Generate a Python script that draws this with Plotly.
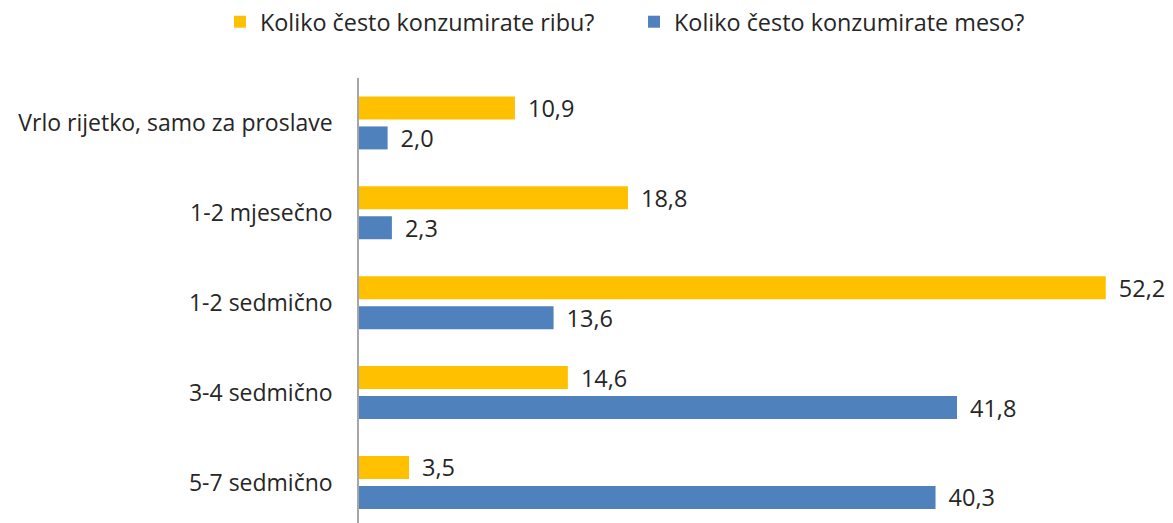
import plotly.graph_objects as go

categories = ["Vrlo rijetko, samo za proslave", "1-2 mjesečno", "1-2 sedmično", "3-4 sedmično", "5-7 sedmično"]
riba = [10.9, 18.8, 52.2, 14.6, 3.5]
meso = [2.0, 2.3, 13.6, 41.8, 40.3]
series_names = ["Koliko često konzumirate ribu?", "Koliko često konzumirate meso?"]

FONT = "Open Sans"
TXT = "#262626"
FS_TICK = 23
FS_LABEL = 23.5
FS_LEG = 23.4

fig = go.Figure()
fig.add_trace(go.Bar(
    y=categories, x=riba, orientation="h", name=series_names[0],
    marker=dict(color="#FFC000", line=dict(width=0)),
    texttemplate="\u00a0\u2009%{x:.1f}", textposition="outside", constraintext="none",
    textfont=dict(family=FONT, size=FS_LABEL, color=TXT), cliponaxis=False,
    legend="legend",
))
fig.add_trace(go.Bar(
    y=categories, x=meso, orientation="h", name=series_names[1],
    marker=dict(color="#4F81BD", line=dict(width=0)),
    texttemplate="\u00a0\u2009%{x:.1f}", textposition="outside", constraintext="none",
    textfont=dict(family=FONT, size=FS_LABEL, color=TXT), cliponaxis=False,
    legend="legend2",
))

legend_common = dict(orientation="h", xref="container", yref="container",
                     y=1 - 14 / 523, xanchor="left", yanchor="middle",
                     font=dict(family=FONT, size=FS_LEG, color=TXT),
                     itemwidth=30, bgcolor="rgba(0,0,0,0)")

fig.update_layout(
    width=1173, height=523,
    margin=dict(l=351, r=18, t=70, b=0, autoexpand=False),
    paper_bgcolor="white", plot_bgcolor="white",
    separators=",.",
    barmode="group", bargap=0.333, bargroupgap=0.233,
    font=dict(family=FONT, size=FS_TICK, color=TXT),
    showlegend=True,
    legend=dict(x=0.1807, **legend_common),
    legend2=dict(x=0.5337, **legend_common),
)
fig.update_xaxes(range=[0, 56.2], showgrid=False, showticklabels=False, zeroline=False,
                 showline=False, ticks="", automargin=False)
fig.update_yaxes(range=[4.54, -0.5], showgrid=False, showline=True, linecolor="#A6A6A6",
                 linewidth=1.5, ticks="", ticklabelstandoff=20, automargin=False,
                 tickfont=dict(family=FONT, size=FS_TICK, color=TXT))

fig.write_html("out.html")
